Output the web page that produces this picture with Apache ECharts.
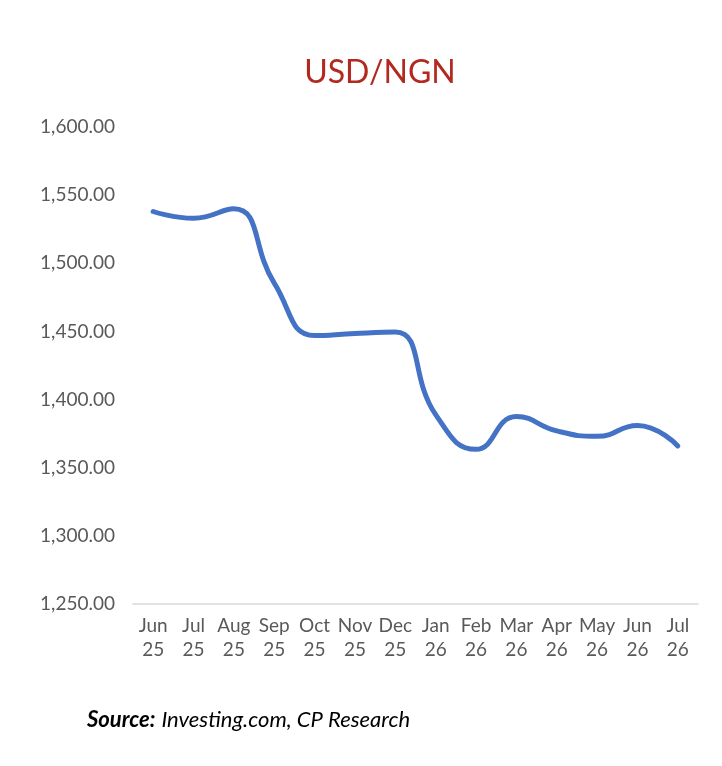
<!DOCTYPE html>
<html>
<head>
<meta charset="utf-8">
<script src="https://cdn.jsdelivr.net/npm/echarts@6/dist/echarts.min.js"></script>
<style>
    html, body { margin: 0; padding: 0; background: #fff; }
    #chart { width: 722px; height: 766px; }
</style>
</head>
<body>
<div id="chart"></div>
<script>
// 数据
const months = ['Jun\n25', 'Jul\n25', 'Aug\n25', 'Sep\n25', 'Oct\n25', 'Nov\n25', 'Dec\n25',
    'Jan\n26', 'Feb\n26', 'Mar\n26', 'Apr\n26', 'May\n26', 'Jun\n26', 'Jul\n26'];
const usdNgn = [1538, 1533, 1540, 1485.5, 1447, 1448.5, 1449.5, 1389, 1363.5, 1387.5, 1377, 1373, 1381, 1366];
const yMin = 1250;
const yMax = 1600;
const yStep = 50;

const myChart = echarts.init(document.getElementById('chart'));

let option = {
    animation: false,
    title: {
        text: 'USD/NGN',
        left: 375,
        top: 52,
        textAlign: 'center',
        textStyle: {
            color: '#B2291F',
            fontFamily: 'Lato',
            fontWeight: 'normal',
            fontSize: 32
        }
    },
    graphic: [{
        type: 'text',
        left: 87,
        top: 709,
        style: {
            text: '{b|Source:}{i|Investing.com, CP Research}',
            rich: {
                b: { fontFamily: 'Lato', fontStyle: 'italic', fontWeight: 'bold', fontSize: 22, fill: '#000', padding: [0, 6, 0, 0] },
                i: { fontFamily: 'Lato', fontStyle: 'italic', fontSize: 22, fill: '#000' }
            }
        }
    }],
    grid: {
        left: 133,
        right: 24,
        top: 127,
        bottom: 162
    },
    xAxis: {
        type: 'category',
        data: months,
        boundaryGap: true,
        axisLine: { lineStyle: { color: '#D9D9D9', width: 1.5 } },
        axisTick: { length: 6, lineStyle: { color: '#D9D9D9', width: 1.5 } },
        axisLabel: {
            color: '#595959',
            fontFamily: 'Lato',
            fontSize: 19,
            lineHeight: 24,
            margin: 10,
            interval: 0
        }
    },
    yAxis: {
        type: 'value',
        min: yMin,
        max: yMax,
        interval: yStep,
        splitLine: { show: false },
        axisLine: { show: false },
        axisTick: { show: false },
        axisLabel: {
            color: '#595959',
            fontFamily: 'Lato',
            fontSize: 19,
            margin: 18,
            formatter: v => v.toLocaleString('en-US', { minimumFractionDigits: 2, maximumFractionDigits: 2 })
        }
    },
    series: [{
        name: 'USD/NGN',
        type: 'line',
        data: usdNgn,
        smooth: 0.5,
        showSymbol: false,
        lineStyle: { color: '#4472C4', width: 5, cap: 'round' }
    }]
};

myChart.setOption(option);
</script>
</body>
</html>
